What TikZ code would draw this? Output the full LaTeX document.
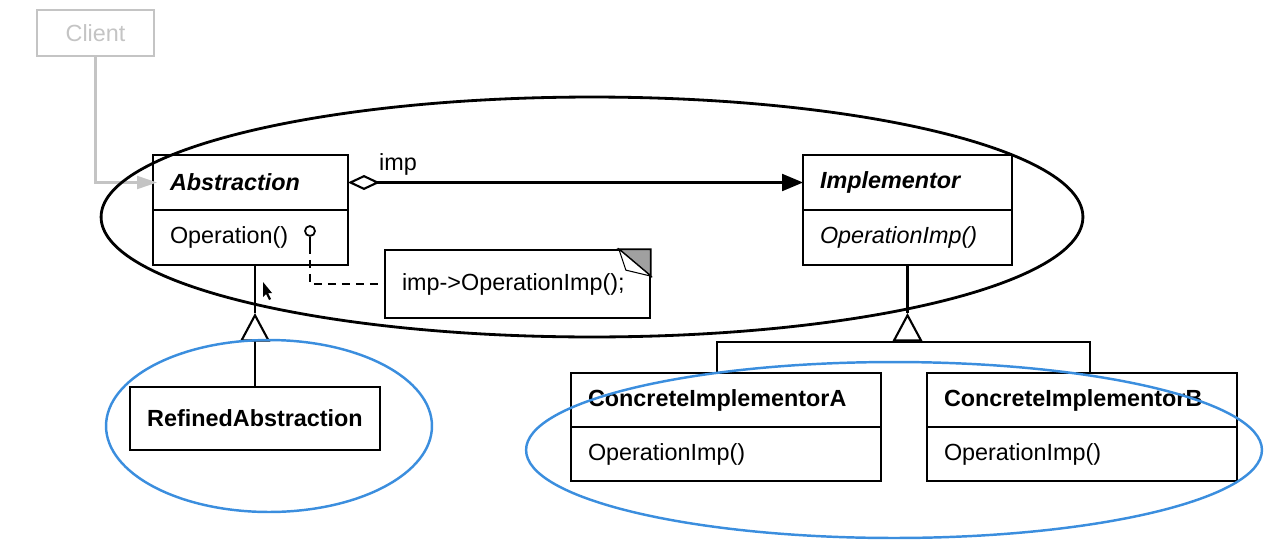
\documentclass[tikz,border=0pt]{standalone}
\usepackage{fontspec}
\setmainfont{Liberation Sans}
\usepackage{tikz}
\usetikzlibrary{arrows.meta, positioning, calc}

\definecolor{ringblue}{RGB}{59,142,222}
\definecolor{clientgray}{RGB}{196,196,196}
\definecolor{foldgray}{RGB}{160,160,160}
\newcommand\umlfont{\fontsize{13.3}{16}\selectfont}

\begin{document}
\begin{tikzpicture}[x=0.02cm, y=-0.02cm,
        classhead/.style={rectangle, draw=black, line width=1pt, outer sep=0pt, minimum height=1.1cm, inner xsep=0.34cm, align=left, font=\umlfont\bfseries\itshape},
        classbody/.style={rectangle, draw=black, line width=1pt, outer sep=0pt, minimum height=1.1cm, inner xsep=0.34cm, align=left, font=\umlfont},
        concrete/.style={classhead, minimum height=1.08cm, font=\umlfont\bfseries},
        notebox/.style={rectangle, draw=black, line width=1pt, minimum height=1.36cm, inner xsep=0.34cm, align=left, font=\umlfont},
        clientbox/.style={rectangle, draw=clientgray, line width=1pt, minimum width=2.34cm, minimum height=0.92cm, text=clientgray, font=\umlfont},
        wire/.style={draw=black, line width=1.2pt},
        assoc/.style={wire, {Diamond[open, length=0.64cm, width=0.3cm]}-{Triangle[length=0.42cm, width=0.34cm]}},
        inherit/.style={wire, -{Triangle[open, length=0.57cm, width=0.6cm]}},
        notelink/.style={wire, dash pattern=on 0.16cm off 0.12cm},
        clientlink/.style={draw=clientgray, line width=1.2pt, -{Triangle[length=0.4cm, width=0.26cm, fill=clientgray]}, shorten >=-0.08cm},
        ring/.style={draw=ringblue, line width=1.4pt}
    ]
    \useasboundingbox (0,0) rectangle (1283,541);

    % Classes
    \node[clientbox] (client) at (95.5,33) {Client};
    \node[classhead, text width=3.22cm] (absTop) at (250.5,182.5) {Abstraction};
    \node[classbody, text width=3.22cm, below=0pt of absTop] (absBot) {Operation()};
    \node[classhead, text width=3.5cm] (implTop) at (907.5,182.5) {Implementor};
    \node[classbody, text width=3.5cm, below=0pt of implTop, font=\umlfont\itshape] (implBot) {OperationImp()};
    \node[classhead, font=\umlfont\bfseries, minimum width=4.96cm, minimum height=1.26cm, align=center] (refined) at (255,418.5) {RefinedAbstraction};
    \node[concrete, text width=5.52cm] (ciaTop) at (726,400) {ConcreteImplementorA};
    \node[classbody, text width=5.52cm, minimum height=1.08cm, below=0pt of ciaTop] (ciaBot) {OperationImp()};
    \node[concrete, text width=5.52cm] (cibTop) at (1082,400) {ConcreteImplementorB};
    \node[classbody, text width=5.52cm, minimum height=1.08cm, below=0pt of cibTop] (cibBot) {OperationImp()};

    % Note
    \node[notebox, text width=4.62cm] (note) at (517.5,284) {imp->OperationImp();};
    \filldraw[fill=foldgray, line width=1pt] ($(note.north east)+(-32,0)$) -- (note.north east) -- ++(0,27) -- cycle;
    \draw[line width=0.6pt, fill=white] ($(note.north east)+(-32,0)$) -- ++(7,21) -- ($(note.north east)+(0,27)$) -- cycle;
    \node[circle, draw, line width=1pt, inner sep=0pt, minimum size=0.2cm] (lolli) at (310,231) {};
    \draw[wire] (lolli.south) -- ++(0,9) coordinate (stem);
    \draw[notelink] (stem) |- (note.west);

    % Connections
    \draw[clientlink] (client.south) |- (absTop.west);
    \draw[assoc] (absTop.east) -- node[pos=0.11, above, font=\umlfont] (impLabel) {imp} (implTop.west);

    \coordinate (absTip) at (255,313);
    \draw[inherit] (refined.north) -- (absTip);
    \draw[wire] (absTip) -- (absTip |- absBot.south);

    \coordinate (implTip) at (implBot.south |- absTip);
    \coordinate (bar) at (implBot.south |- 0,342);
    \draw[inherit] (bar) -- (implTip);
    \draw[wire] (implTip) -- (implBot.south);
    \draw[wire] ([xshift=-0.18cm]ciaTop.north) |- (bar) -| ([xshift=0.16cm]cibTop.north);

    % Mouse pointer
    \fill (263,282) -- (263,297) -- (266,294) -- (269,300) -- (271,299) -- (268,293) -- (272,293) -- cycle;

    % Highlight rings
    \draw[line width=1.6pt] (592,217) ellipse [x radius=9.82cm, y radius=2.4cm];
    \draw[ring] (269,426) ellipse [x radius=3.26cm, y radius=1.72cm];
    \draw[ring] (894,450) ellipse [x radius=7.36cm, y radius=1.76cm];
\end{tikzpicture}
\end{document}
